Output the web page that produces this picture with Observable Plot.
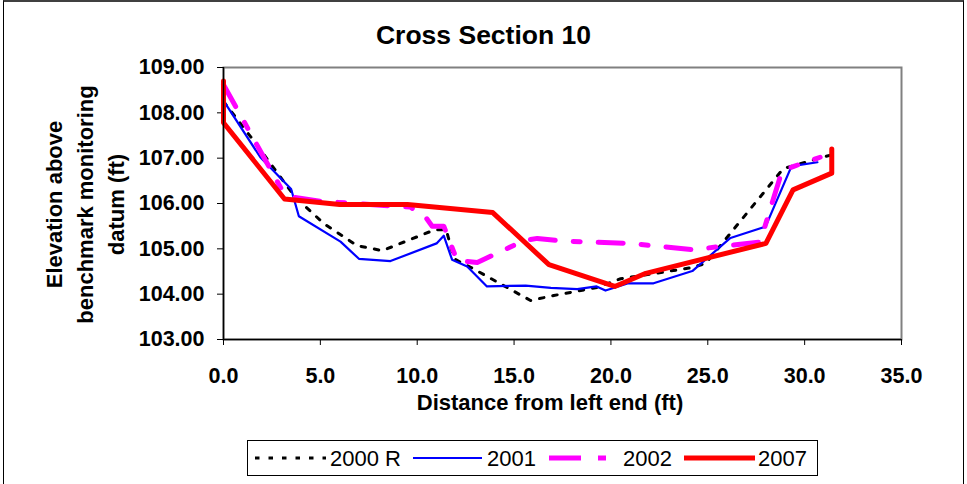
<!DOCTYPE html>
<html>
<head>
<meta charset="utf-8">
<script src="https://cdn.jsdelivr.net/npm/d3@7"></script>
<script src="https://cdn.jsdelivr.net/npm/@observablehq/plot@0.6"></script>
<style>
  html, body { margin: 0; padding: 0; background: #fff; }
  body { font-family: "Liberation Sans", Arial, sans-serif; }
  #wrap { position: relative; width: 967px; height: 484px; overflow: hidden; background: #fff; }
  #border { position: absolute; left: 3px; top: 0px; width: 959px; height: 490px;
            border-left: 1px solid #000; border-right: 1px solid #000; border-top: 2px solid #404040; }
  #chart { position: absolute; left: 0; top: 0; }
  .title { position: absolute; font-weight: bold; color: #000; white-space: nowrap; }
  #legend { position: absolute; left: 247px; top: 440px; width: 569px; height: 34px;
            border: 1px solid #000; background: #fff; }
</style>
</head>
<body>
<div id="wrap">
  <div id="border"></div>
  <div id="chart"></div>
  <div class="title" style="left:0;width:967px;top:19px;text-align:center;font-size:26.5px;line-height:32px;">Cross Section 10</div>
  <div class="title" style="left:350px;width:400px;top:390px;text-align:center;font-size:22px;line-height:26px;">Distance from left end (ft)</div>
  <div class="title" style="left:-55px;top:157.5px;width:280px;height:93px;text-align:center;font-size:22px;line-height:31px;transform:rotate(-90deg);transform-origin:140px 46.5px;">Elevation above<br>benchmark monitoring<br>datum (ft)</div>
  <div id="legend"></div>
</div>
<script>
// ---- data ----
const seriesNames = ["2000 R", "2001", "2002", "2007"];

const x2000R = [0, 1.55, 3.7, 5.2, 6.9, 8.2, 10.9, 11.5, 11.9, 12.9, 15.85, 17.05, 19.3, 20.5, 24.1, 24.9, 28.9, 31.6];
const y2000R = [108.25, 107.39, 106.14, 105.55, 105.07, 104.96, 105.42, 105.42, 104.78, 104.56, 103.86, 103.97, 104.15, 104.34, 104.58, 104.68, 106.77, 107.10];

const x2001 = [0, 1.9, 3.49, 3.89, 6.04, 6.99, 8.62, 11.0, 11.37, 11.8, 12.58, 13.6, 15.6, 16.9, 18.26, 19.26, 19.72, 20.9, 22.2, 24.2, 26.17, 27.98, 29.27, 29.6, 30.66];
const y2001 = [108.27, 107.02, 106.32, 105.72, 105.16, 104.78, 104.73, 105.12, 105.29, 104.76, 104.61, 104.17, 104.19, 104.14, 104.11, 104.17, 104.08, 104.24, 104.24, 104.51, 105.24, 105.49, 106.77, 106.84, 106.91];

const x2002 = [0, 3.03, 3.46, 5.0, 9.65, 10.43, 10.77, 11.37, 12.06, 13.1, 15.5, 16.2, 17.5, 21.0, 24.2, 27.7, 28.84, 29.44, 30.8];
const y2002 = [108.62, 106.29, 106.15, 106.05, 105.92, 105.7, 105.5, 105.5, 104.74, 104.7, 105.18, 105.23, 105.17, 105.12, 104.98, 105.15, 106.73, 106.82, 107.02];

const x2007 = [0, 0, 3.15, 6.0, 9.5, 13.9, 16.8, 20.2, 21.8, 28.0, 29.4, 31.4, 31.4];
const y2007 = [108.7, 107.78, 106.1, 105.98, 105.98, 105.8, 104.65, 104.17, 104.46, 105.12, 106.3, 106.67, 107.2];

const xTicks = [0, 5, 10, 15, 20, 25, 30, 35];
const yTicks = [103, 104, 105, 106, 107, 108, 109];

// ---- styles ----
const styles = {
  "2000 R": {stroke: "#000000", strokeWidth: 3, strokeDasharray: "4.5,9"},
  "2001":   {stroke: "#0000ff", strokeWidth: 2.2, strokeDasharray: null},
  "2002":   {stroke: "#ff00ff", strokeWidth: 5, strokeDasharray: "25,18,7,18"},
  "2007":   {stroke: "#ff0000", strokeWidth: 5, strokeDasharray: null}
};

const toRows = (xs, ys) => xs.map((x, i) => ({x, y: ys[i]}));
const data = {
  "2000 R": toRows(x2000R, y2000R),
  "2001": toRows(x2001, y2001),
  "2002": toRows(x2002, y2002),
  "2007": toRows(x2007, y2007)
};

const lineMark = (name) => {
  const s = styles[name];
  const opts = {x: "x", y: "y", stroke: s.stroke, strokeWidth: s.strokeWidth, strokeLinejoin: "round"};
  if (s.strokeDasharray) opts.strokeDasharray = s.strokeDasharray;
  return Plot.line(data[name], opts);
};

const chart = Plot.plot({
  width: 967,
  height: 440,
  marginLeft: 223,
  marginRight: 66,
  marginTop: 67,
  marginBottom: 101,
  style: {fontFamily: "'Liberation Sans', Arial, sans-serif", fontSize: "21.5px", fontWeight: "bold", color: "#000", background: "transparent"},
  x: {domain: [0, 35], ticks: xTicks},
  y: {domain: [103, 109], ticks: yTicks},
  marks: [
    Plot.frame({stroke: "#808080", strokeWidth: 2}),
    Plot.axisX({ticks: xTicks, tickFormat: d3.format(".1f"), tickSize: 6, tickPadding: 22, label: null, fontSize: 21.5, fontWeight: "bold"}),
    Plot.axisY({ticks: yTicks, tickFormat: d3.format(".2f"), tickSize: 6, tickPadding: 13, label: null, fontSize: 21.5, fontWeight: "bold"}),
    lineMark("2000 R"),
    lineMark("2001"),
    lineMark("2002"),
    lineMark("2007"),
    Plot.ruleX([0], {stroke: "#000", strokeWidth: 1.5}),
    Plot.ruleY([103], {stroke: "#000", strokeWidth: 1.5})
  ]
});
document.getElementById("chart").appendChild(chart);

// ---- legend ----
const legendItems = [
  {name: "2000 R", x1: 7, x2: 78, tx: 82},
  {name: "2001", x1: 165, x2: 234, tx: 239},
  {name: "2002", x1: 301, x2: 368, tx: 375},
  {name: "2007", x1: 436, x2: 507, tx: 510}
];
const ns = "http://www.w3.org/2000/svg";
const lsvg = document.createElementNS(ns, "svg");
lsvg.setAttribute("width", 569);
lsvg.setAttribute("height", 34);
for (const it of legendItems) {
  const s = styles[it.name];
  const ln = document.createElementNS(ns, "line");
  ln.setAttribute("x1", it.x1); ln.setAttribute("x2", it.x2);
  ln.setAttribute("y1", 17); ln.setAttribute("y2", 17);
  ln.setAttribute("stroke", s.stroke);
  ln.setAttribute("stroke-width", s.strokeWidth);
  if (s.strokeDasharray) ln.setAttribute("stroke-dasharray", it.name === "2002" ? "32,17,8,17" : s.strokeDasharray);
  lsvg.appendChild(ln);
  const t = document.createElementNS(ns, "text");
  t.setAttribute("x", it.tx); t.setAttribute("y", 25);
  t.setAttribute("font-family", "'Liberation Sans', Arial, sans-serif");
  t.setAttribute("font-size", "22");
  t.textContent = it.name;
  lsvg.appendChild(t);
}
document.getElementById("legend").appendChild(lsvg);
</script>
</body>
</html>
